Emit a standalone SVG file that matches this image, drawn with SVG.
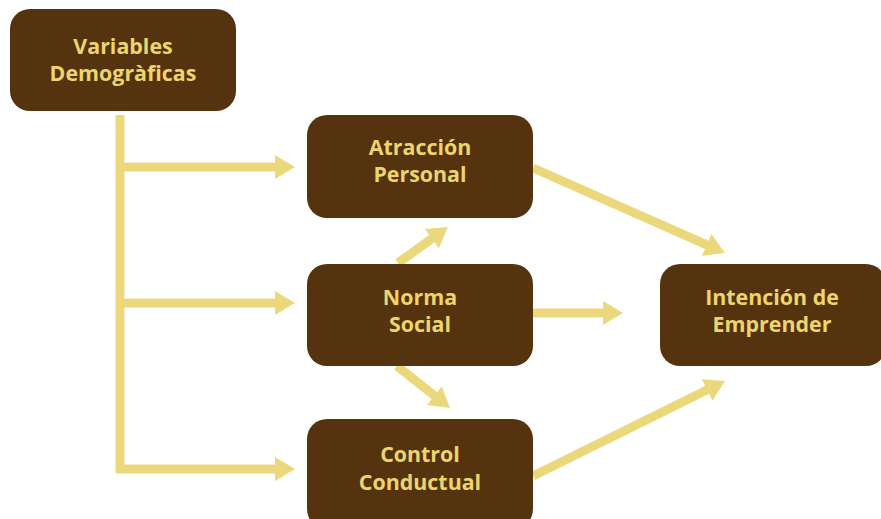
<svg xmlns="http://www.w3.org/2000/svg" width="881" height="519" viewBox="0 0 881 519">
  <defs>
    <style>
      .box { fill: #55330f; }
      .lbl { font-family: "Open Sans", "Noto Sans", "DejaVu Sans", sans-serif; font-weight: bold; font-size: 21.4px; fill: #ecd66c; text-anchor: middle; }
      .link { stroke: #ecd87c; stroke-width: 9; fill: none; }
    </style>
    <marker id="head" markerUnits="userSpaceOnUse" markerWidth="20" markerHeight="24" viewBox="0 0 20 24" refX="2" refY="12" orient="auto">
      <path d="M0,0 L20,12 L0,24 Z" fill="#ecd87c"/>
    </marker>
  </defs>

  <!-- connectors -->
  <g id="connectors">
    <line class="link" x1="120" y1="115" x2="120" y2="473"/>
    <line class="link" x1="116" y1="167" x2="277" y2="167" marker-end="url(#head)"/>
    <line class="link" x1="116" y1="303" x2="277" y2="303" marker-end="url(#head)"/>
    <line class="link" x1="116" y1="469" x2="277" y2="469" marker-end="url(#head)"/>
    <line class="link" x1="398" y1="263" x2="433.4" y2="237.5" marker-end="url(#head)"/>
    <line class="link" x1="397" y1="366" x2="435.9" y2="396.8" marker-end="url(#head)"/>
    <line class="link" x1="533" y1="313" x2="605" y2="313" marker-end="url(#head)"/>
    <line class="link" x1="533" y1="168" x2="708.5" y2="245.7" marker-end="url(#head)"/>
    <line class="link" x1="533" y1="476" x2="708.9" y2="389" marker-end="url(#head)"/>
  </g>

  <!-- nodes -->
  <g id="variables">
    <rect class="box" x="10" y="9" width="226" height="102" rx="20"/>
    <text class="lbl" x="123" y="54">Variables</text>
    <text class="lbl" x="123" y="81">Demogràficas</text>
  </g>
  <g id="atraccion">
    <rect class="box" x="307" y="115" width="226" height="103" rx="20"/>
    <text class="lbl" x="420" y="155">Atracción</text>
    <text class="lbl" x="420" y="182">Personal</text>
  </g>
  <g id="norma">
    <rect class="box" x="307" y="264" width="226" height="102" rx="20"/>
    <text class="lbl" x="420" y="305">Norma</text>
    <text class="lbl" x="420" y="332">Social</text>
  </g>
  <g id="control">
    <rect class="box" x="307" y="419" width="226" height="110" rx="20"/>
    <text class="lbl" x="420" y="462">Control</text>
    <text class="lbl" x="420" y="490">Conductual</text>
  </g>
  <g id="intencion">
    <rect class="box" x="660" y="264" width="226" height="102" rx="20"/>
    <text class="lbl" x="772" y="305">Intención de</text>
    <text class="lbl" x="772" y="332">Emprender</text>
  </g>
</svg>
